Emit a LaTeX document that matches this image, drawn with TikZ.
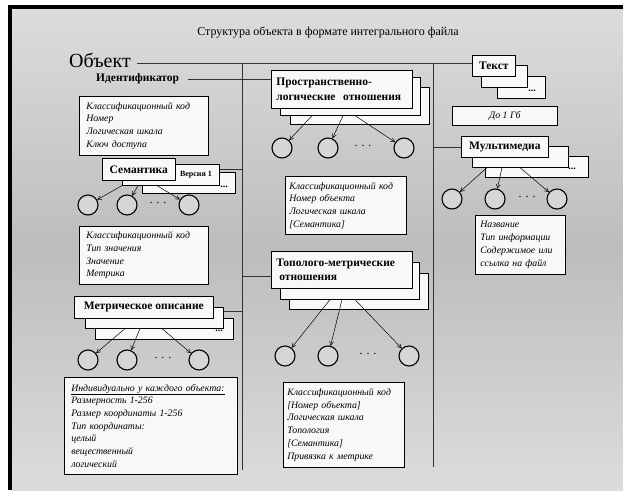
\documentclass[tikz,border=0pt]{standalone}
\usepackage{fontspec}
\setmainfont{Liberation Serif}
\usetikzlibrary{arrows.meta,calc}
\definecolor{bgtop}{HTML}{DCDCDC}
\definecolor{bgmid}{HTML}{BDBDBD}
\definecolor{boxfill}{HTML}{F8F8F8}
\definecolor{circfill}{HTML}{D6D6D6}
\tikzset{
  box/.style={draw=black, fill=boxfill, line width=0.6pt, inner sep=0pt, anchor=north west},
  itbox/.style={box, font=\fontsize{9.8}{12.7}\selectfont\itshape, align=left},
  bhead/.style={font=\fontsize{11.5}{14.5}\selectfont\bfseries},
  circ/.style={circle, draw=black, line width=1.1pt, fill=circfill, minimum size=20pt, inner sep=0pt},
  arr/.style={-{Straight Barb[length=4pt,width=4pt]}, line width=0.5pt},
  conn/.style={line width=0.9pt, draw=black!80},
  dots/.style={font=\fontsize{10}{10}\selectfont\bfseries, inner sep=0pt},
  cdots/.style={font=\fontsize{12}{12}\selectfont, inner sep=0pt}
}
\begin{document}
\begin{tikzpicture}[x=1pt,y=-1pt]
\useasboundingbox (0,0) rectangle (623,490);
\fill[white] (0,0) rectangle (623,490);
\shade[top color=bgtop, bottom color=bgtop, middle color=bgmid] (12,9) rectangle (623,490);
\fill[black] (8,5) rectangle (12,490);
\fill[black] (8,5) rectangle (623,9);

% title
\node[font=\fontsize{12}{14}\selectfont] (title) at (328,32) {Структура объекта в формате интегрального файла};
\node[font=\fontsize{20}{22}\selectfont, anchor=south west, inner sep=0pt] (obj) at (69,68) {Объект};
\node[bhead, anchor=west, inner sep=0pt] (ident) at (96,79) {Идентификатор};

% ---------------- left column
\node[itbox, minimum width=129pt, minimum height=59pt, text width=115pt, inner xsep=7pt] (I1) at (79,96)
  {Классификационный код\\Номер\\Логическая шкала\\Ключ доступа};

\node[box, minimum width=93pt, minimum height=21pt] (S3) at (142,172) {};
\node[dots] (S3d) at (224,187) {...};
\node[box, minimum width=97pt, minimum height=21pt] (S2) at (122,164) {};
\node[font=\fontsize{8}{9}\selectfont\bfseries, inner sep=0pt] (S2t) at (196,175) {Версия 1};
\node[box, bhead, minimum width=73pt, minimum height=22pt] (S1) at (102,158) {Семантика};

\node[circ] (sc1) at (88,205) {};
\node[circ] (sc2) at (127,205) {};
\node[circ] (sc3) at (189,205) {};
\node[cdots] (scd) at (158,203) {. . .};
\draw[arr] (S2.south -| 122,0) -- (sc1);
\draw[arr] (S2.south -| 138,0) -- (sc2);
\draw[arr] (S2.south -| 157,0) -- (sc3);

\node[itbox, minimum width=129pt, minimum height=58pt, text width=115pt, inner xsep=7pt] (I2) at (79,226)
  {Классификационный код\\Тип значения\\Значение\\Метрика};

\node[box, minimum width=138pt, minimum height=21pt] (M3) at (95,318) {};
\node[dots] (M3d) at (219,331) {...};
\node[box, minimum width=138pt, minimum height=21pt] (M2) at (85,307) {};
\node[box, bhead, minimum width=139pt, minimum height=22pt] (M1) at (74,296) {Метрическое описание};

\node[circ] (mc1) at (88,360) {};
\node[circ] (mc2) at (127,360) {};
\node[circ] (mc3) at (199,360) {};
\node[cdots] (mcd) at (163,358) {. . .};
\draw[arr] (M2.south -| 125,0) -- (mc1);
\draw[arr] (M2.south -| 140,0) -- (mc2);
\draw[arr] (M2.south -| 162,0) -- (mc3);

\node[itbox, minimum width=173pt, minimum height=97pt, text width=159pt, inner xsep=7pt] (I3) at (64,377)
  {\underline{Индивидуально у каждого объекта:}\\Размерность 1-256\\Размер координаты 1-256\\Тип координаты:\\целый\\вещественный\\логический};

% ---------------- middle column
\node[box, minimum width=139pt, minimum height=37pt] (P3) at (290,87) {};
\node[dots] (P3d) at (302,116) {...};
\node[box, minimum width=140pt, minimum height=38pt] (P2) at (280,77) {};
\node[box, bhead, minimum width=141pt, minimum height=38pt, align=left, text width=131pt, inner xsep=5pt] (P1) at (271,70)
  {Пространственно-\\логические\ \ отношения};

\node[circ] (pc1) at (282,148) {};
\node[circ] (pc2) at (328,148) {};
\node[circ] (pc3) at (404,148) {};
\node[cdots] (pcd) at (363,146) {. . .};
\draw[arr] (P2.south -| 312,0) -- (pc1);
\draw[arr] (P2.south -| 343,0) -- (pc2);
\draw[arr] (P2.south -| 355,0) -- (pc3);

\node[itbox, minimum width=121pt, minimum height=58pt, text width=113pt, inner xsep=4pt] (PB) at (285,176)
  {Классификационный код\\Номер объекта\\Логическая шкала\\{}[Семантика]};

\node[box, minimum width=139pt, minimum height=36pt] (T3) at (289,273) {};
\node[dots] (T3d) at (302,299) {...};
\node[box, minimum width=139pt, minimum height=37pt] (T2) at (280,262) {};
\node[box, bhead, minimum width=141pt, minimum height=37pt, align=left, text width=131pt, inner xsep=5pt] (T1) at (271,251)
  {Тополого-метрические\\\hspace*{3pt}отношения};

\node[circ] (tc1) at (285,356) {};
\node[circ] (tc2) at (328,356) {};
\node[circ] (tc3) at (409,356) {};
\node[cdots] (tcd) at (368,354) {. . .};
\draw[arr] (T2.south -| 330,0) -- (tc1);
\draw[arr] (T2.south -| 342,0) -- (tc2);
\draw[arr] (T2.south -| 355,0) -- (tc3);

\node[itbox, minimum width=121pt, minimum height=85pt, text width=113pt, inner xsep=4pt] (TB) at (283,382)
  {Классификационный код\\{}[Номер объекта]\\Логическая шкала\\Топология\\{}[Семантика]\\Привязка к метрике};

% ---------------- right column
\node[box, minimum width=48pt, minimum height=22pt] (X3) at (497,76) {};
\node[dots] (X3d) at (532,91) {...};
\node[box, minimum width=46pt, minimum height=22pt] (X2) at (481,65) {};
\node[box, bhead, minimum width=43pt, minimum height=21pt] (X1) at (472,55) {Текст};

\node[itbox, minimum width=105pt, minimum height=19pt, align=center] (GB) at (452,106) {До 1 Гб};

\node[box, minimum width=103pt, minimum height=21pt] (MM3) at (485,156) {};
\node[dots] (MM3d) at (572,169) {...};
\node[box, minimum width=96pt, minimum height=21pt] (MM2) at (472,146) {};
\node[box, bhead, minimum width=87pt, minimum height=21pt] (MM1) at (461,136) {Мультимедиа};

\node[circ] (uc1) at (452,199) {};
\node[circ] (uc2) at (495,199) {};
\node[circ] (uc3) at (557,199) {};
\node[cdots] (ucd) at (527,197) {. . .};
\draw[arr] (MM2.south -| 487,0) -- (uc1);
\draw[arr] (MM2.south -| 502,0) -- (uc2);
\draw[arr] (MM2.south -| 520,0) -- (uc3);

\node[itbox, minimum width=88pt, minimum height=59pt, text width=80pt, inner xsep=5pt] (MB) at (475,215)
  {Название\\Тип информации\\Содержимое или\\ссылка на файл};

% ---------------- connectors
\coordinate (vL1) at (242,63);
\coordinate (vL2) at (242,470);
\coordinate (vR1) at (433,63);
\coordinate (vR2) at (433,467);
\draw[conn] (obj.east |- 0,63) ++(6,0) -- (X1.west |- 0,63);
\draw[conn] (vL1) -- (vL2);
\draw[conn] (vR1) -- (vR2);
\draw[conn] (ident.east |- 0,79) ++(9,0) -- (P1.west |- 0,79);
\draw[conn] (S2.east |- 0,169) -- (242,169);
\draw[conn] (M2.east |- 0,311) -- (242,311);
\draw[conn] (242,276) -- (T1.west |- 0,276);
\draw[conn] (433,147) -- (MM1.west |- 0,147);
\end{tikzpicture}
\end{document}
